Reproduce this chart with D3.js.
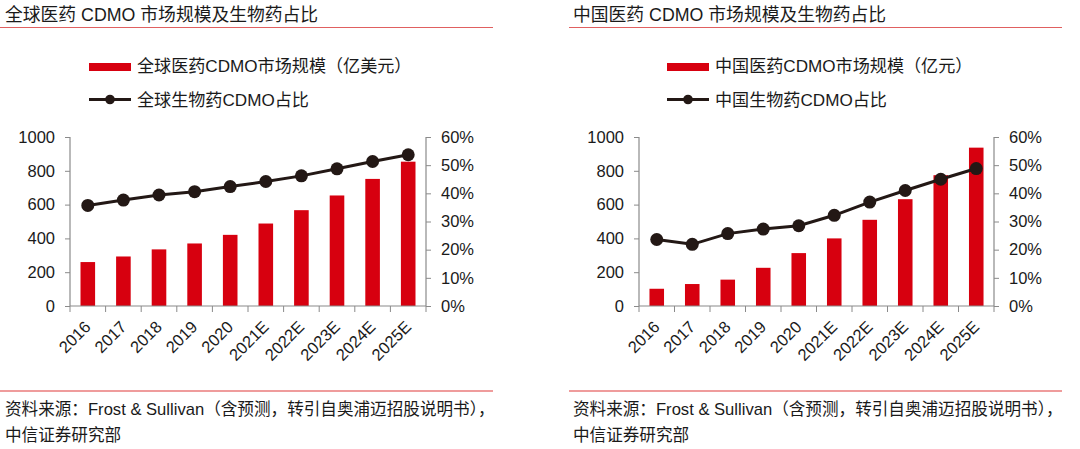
<!DOCTYPE html>
<html><head><meta charset="utf-8">
<script src="https://cdn.jsdelivr.net/npm/d3@7"></script>
<style>
body{margin:0;background:#fff;}
svg text{font-family:"Liberation Sans",Arial,"Noto Sans CJK SC",sans-serif;fill:#1a1a1a;}
</style></head>
<body><svg id="c" width="1080" height="449"></svg>
<script>
const categories = ["2016","2017","2018","2019","2020","2021E","2022E","2023E","2024E","2025E"];
const globalMarket = [260,293,335,370,421,488,567,654,752,854];
const globalBioShare = [35.7,37.6,39.4,40.6,42.4,44.2,46.2,48.7,51.3,53.7];
const chinaMarket = [102,130,156,226,313,400,510,632,774,937];
const chinaBioShare = [23.6,21.9,25.7,27.3,28.5,32.2,36.9,41.0,45.0,48.8];
const leftTicks = [0,200,400,600,800,1000];
const rightTicks = [0,10,20,30,40,50,60];

const panels = [
  {title:"全球医药 CDMO 市场规模及生物药占比", barName:"全球医药CDMO市场规模（亿美元）", lineName:"全球生物药CDMO占比",
   bars:globalMarket, line:globalBioShare, x0:70, x1:426, titleX:5, ruleX0:0, ruleX1:493, legX:89},
  {title:"中国医药 CDMO 市场规模及生物药占比", barName:"中国医药CDMO市场规模（亿元）", lineName:"中国生物药CDMO占比",
   bars:chinaMarket, line:chinaBioShare, x0:639, x1:994, titleX:573, ruleX0:569, ruleX1:1062, legX:667}
];
const svg = d3.select("#c");
const RED = "#d7000f", DARK = "#231815", AX = "#8a8a8a";
const yTop = 137, yBot = 306;

panels.forEach(p => {
  const g = svg.append("g");
  g.append("text").attr("x", p.titleX).attr("y", 20.5).attr("font-size", 17.8).text(p.title);
  g.append("line").attr("x1", p.ruleX0).attr("x2", p.ruleX1).attr("y1", 27.5).attr("y2", 27.5).attr("stroke", "#e06060").attr("stroke-width", 1.2);
  g.append("line").attr("x1", p.ruleX0).attr("x2", p.ruleX1).attr("y1", 391).attr("y2", 391).attr("stroke", "#e03a3a").attr("stroke-width", 1.2);
  g.append("text").attr("x", p.titleX).attr("y", 414.5).attr("font-size", 16.6).text("资料来源：Frost & Sullivan（含预测，转引自奥浦迈招股说明书），");
  g.append("text").attr("x", p.titleX).attr("y", 440.5).attr("font-size", 16.6).text("中信证券研究部");

  // legend
  g.append("rect").attr("x", p.legX).attr("y", 63).attr("width", 42).attr("height", 8).attr("fill", RED);
  g.append("text").attr("x", p.legX + 48).attr("y", 72).attr("font-size", 17.1).text(p.barName);
  g.append("line").attr("x1", p.legX).attr("x2", p.legX + 42).attr("y1", 99.5).attr("y2", 99.5).attr("stroke", DARK).attr("stroke-width", 3);
  g.append("circle").attr("cx", p.legX + 21).attr("cy", 99.5).attr("r", 4.8).attr("fill", DARK);
  g.append("text").attr("x", p.legX + 48).attr("y", 105.5).attr("font-size", 17.1).text(p.lineName);

  const x = d3.scaleBand().domain(categories).range([p.x0, p.x1]).padding(0);
  const yL = d3.scaleLinear().domain([0, 1000]).range([yBot, yTop]);
  const yR = d3.scaleLinear().domain([0, 60]).range([yBot, yTop]);
  const bw = x.bandwidth() * 0.41;

  g.selectAll("rect.bar").data(p.bars).join("rect").attr("class", "bar")
    .attr("x", (d, i) => x(categories[i]) + x.bandwidth() / 2 - bw / 2)
    .attr("width", bw).attr("y", d => yL(d)).attr("height", d => yBot - yL(d))
    .attr("fill", RED);

  // axes
  const la = g.append("g").attr("transform", `translate(${p.x0},0)`)
    .call(d3.axisLeft(yL).tickValues(leftTicks).tickSize(5).tickPadding(10).tickFormat(d3.format("d")));
  const ra = g.append("g").attr("transform", `translate(${p.x1},0)`)
    .call(d3.axisRight(yR).tickValues(rightTicks).tickSize(5).tickPadding(10).tickFormat(d => d + "%"));
  const xa = g.append("g").attr("transform", `translate(0,${yBot})`)
    .call(d3.axisBottom(x).tickSize(6).tickFormat(""));
  xa.selectAll(".tick").remove();
  const edges = categories.map(c => x(c)).concat([p.x1]);
  xa.selectAll("line.edge").data(edges).join("line").attr("class", "edge")
    .attr("x1", d => d).attr("x2", d => d).attr("y1", 0).attr("y2", 6).attr("stroke", AX);
  [la, ra, xa].forEach(a => {
    a.select(".domain").attr("stroke", AX).attr("stroke-width", 1.2);
    a.selectAll(".tick line").attr("stroke", AX);
    a.selectAll(".tick text").attr("font-size", 16.5).attr("fill", "#1a1a1a")
      .style("font-family", '"Liberation Sans",Arial,sans-serif');
  });
  xa.select(".domain").attr("d", `M${p.x0},0H${p.x1}`);
  la.select(".domain").attr("d", `M0,${yTop}V${yBot}`);
  ra.select(".domain").attr("d", `M0,${yTop}V${yBot}`);

  g.selectAll("text.xl").data(categories).join("text").attr("class", "xl")
    .attr("transform", d => `translate(${x(d) + x.bandwidth() / 2 + 4},${yBot + 22}) rotate(-45)`)
    .attr("text-anchor", "end").attr("font-size", 16.5).text(d => d);

  const line = d3.line().x((d, i) => x(categories[i]) + x.bandwidth() / 2).y(d => yR(d));
  g.append("path").datum(p.line).attr("d", line).attr("fill", "none").attr("stroke", DARK).attr("stroke-width", 3);
  g.selectAll("circle.pt").data(p.line).join("circle").attr("class", "pt")
    .attr("cx", (d, i) => x(categories[i]) + x.bandwidth() / 2).attr("cy", d => yR(d)).attr("r", 6.5).attr("fill", DARK);
});
</script></body></html>
